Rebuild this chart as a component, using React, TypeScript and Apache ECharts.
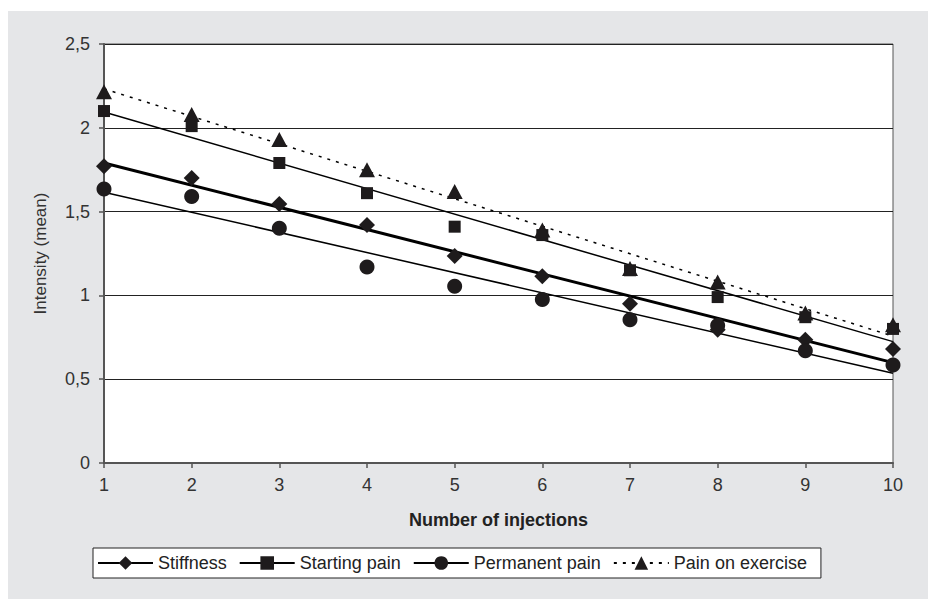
import React, { useEffect, useRef } from "react";
import * as echarts from "echarts";

const injections = [1, 2, 3, 4, 5, 6, 7, 8, 9, 10];
const stiffness = [1.77, 1.7, 1.545, 1.42, 1.235, 1.115, 0.95, 0.795, 0.735, 0.68];
const startingPain = [2.1, 2.01, 1.79, 1.61, 1.41, 1.36, 1.15, 0.99, 0.87, 0.8];
const permanentPain = [1.635, 1.59, 1.4, 1.17, 1.055, 0.975, 0.855, 0.82, 0.67, 0.585];
const painOnExercise = [2.215, 2.08, 1.93, 1.75, 1.62, 1.39, 1.16, 1.08, 0.895, 0.825];

const seriesNames = ["Stiffness", "Starting pain", "Permanent pain", "Pain on exercise"];

const FONT = "'Liberation Sans', Arial, sans-serif";
const INK = "#1e1b1c";

function fitLine(xs: number[], ys: number[]): number[][] {
  const n = xs.length;
  const mx = xs.reduce((a, b) => a + b, 0) / n;
  const my = ys.reduce((a, b) => a + b, 0) / n;
  let sxy = 0;
  let sxx = 0;
  for (let i = 0; i < n; i++) {
    sxy += (xs[i] - mx) * (ys[i] - my);
    sxx += (xs[i] - mx) * (xs[i] - mx);
  }
  const b = sxy / sxx;
  const a = my - b * mx;
  const x0 = Math.min(...xs);
  const x1 = Math.max(...xs);
  return [
    [x0, a + b * x0],
    [x1, a + b * x1],
  ];
}

export default function App() {
  const ref = useRef<HTMLDivElement>(null);
  useEffect(() => {
    document.body.style.margin = "0";
    if (!ref.current) return;
    const chart = echarts.init(ref.current, undefined, { renderer: "svg" });

    const defs = [
      { name: seriesNames[0], values: stiffness, symbol: "diamond", size: [16, 16], width: 3, type: "solid" as any },
      { name: seriesNames[1], values: startingPain, symbol: "rect", size: [12, 12], width: 1.5, type: "solid" as any },
      { name: seriesNames[2], values: permanentPain, symbol: "circle", size: [15, 15], width: 1.5, type: "solid" as any },
      { name: seriesNames[3], values: painOnExercise, symbol: "triangle", size: [16, 15], width: 1.5, type: [3, 6] as any },
    ];

    const lineSeries = defs.map((d) => ({
      name: d.name,
      type: "line",
      data: fitLine(injections, d.values),
      symbol: d.symbol,
      showSymbol: false,
      lineStyle: { color: "#000", width: d.width, type: d.type },
      itemStyle: { color: INK, opacity: 1 },
      z: 2,
      silent: true,
    }));

    const pointSeries = defs.map((d) => ({
      name: d.name + " (data)",
      type: "scatter",
      data: injections.map((x, i) => [x, d.values[i]]),
      symbol: d.symbol,
      symbolSize: d.size,
      itemStyle: { color: INK, opacity: 1 },
      z: 3,
      silent: true,
    }));

    chart.setOption({
      animation: false,
      backgroundColor: "#ffffff",
      graphic: [
        {
          type: "rect",
          shape: { x: 8, y: 11, width: 920, height: 588 },
          style: { fill: "#e5e6e8" },
          z: -10,
          silent: true,
        },
      ],
      grid: {
        left: 104,
        top: 44,
        width: 789,
        height: 419,
        show: true,
        backgroundColor: "#ffffff",
        borderColor: "#555",
        borderWidth: 1,
      },
      legend: {
        data: seriesNames,
        left: 93,
        top: 548,
        orient: "horizontal",
        itemWidth: 55,
        itemHeight: 17,
        itemGap: 12,
        padding: [6, 14, 6, 4],
        backgroundColor: "#ffffff",
        borderColor: "#222",
        borderWidth: 1,
        borderRadius: 0,
        selectedMode: false,
        textStyle: { fontFamily: FONT, fontSize: 18, color: "#222" },
      },
      xAxis: {
        type: "value",
        min: 1,
        max: 10,
        interval: 1,
        name: "Number of injections",
        nameLocation: "middle",
        nameGap: 48,
        nameTextStyle: { fontFamily: FONT, fontSize: 18, fontWeight: "bold", color: "#222" },
        axisLine: { show: true, lineStyle: { color: "#555", width: 2 } },
        axisTick: { show: true, inside: false, length: 5, lineStyle: { color: "#555", width: 1.5 } },
        axisLabel: { fontFamily: FONT, fontSize: 18, color: "#333", margin: 13 },
        splitLine: { show: false },
      },
      yAxis: {
        type: "value",
        min: 0,
        max: 2.5,
        interval: 0.5,
        name: "Intensity (mean)",
        nameLocation: "middle",
        nameGap: 55,
        nameTextStyle: { fontFamily: FONT, fontSize: 17, color: "#333" },
        axisLine: { show: true, lineStyle: { color: "#555", width: 2 } },
        axisTick: { show: true, inside: false, length: 5, lineStyle: { color: "#555", width: 1.5 } },
        axisLabel: {
          fontFamily: FONT,
          fontSize: 18,
          color: "#333",
          margin: 14,
          formatter: (v: number) => String(v).replace(".", ","),
        },
        splitLine: { show: true, lineStyle: { color: "#222", width: 1 } },
      },
      series: [...lineSeries, ...pointSeries],
    });

    return () => {
      chart.dispose();
    };
  }, []);

  return <div ref={ref} style={{ width: 928, height: 599 }} />;
}
